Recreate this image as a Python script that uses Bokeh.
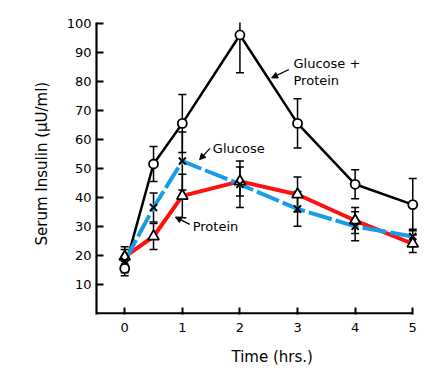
import math
from bokeh.plotting import figure
from bokeh.models import Whisker, ColumnDataSource, Label, Arrow, NormalHead, FixedTicker, TeeHead, Title
from bokeh.embed import file_html
from bokeh.resources import INLINE

# ---- data ----
time = [0, 0.5, 1, 2, 3, 4, 5]
gp_mean = [15.5, 51.5, 65.5, 96, 65.5, 44.5, 37.5]
gp_err = [2.5, 6, 10, 13, 8.5, 5, 9]
glu_mean = [18, 36.5, 52.5, 44.5, 36, 30, 26.5]
glu_err = [4, 5, 10, 8, 6, 5, 2.5]
pro_mean = [19.5, 26.5, 40.5, 45.5, 41, 32, 24]
pro_err = [3.5, 4.5, 7.5, 5, 6, 4.5, 3]
x_ticks = [0, 1, 2, 3, 4, 5]
y_ticks = [10, 20, 30, 40, 50, 60, 70, 80, 90, 100]

FONT = "DejaVu Sans"
BLUE = "#1a9be8"
RED = "#ff1010"

p = figure(width=441, height=379, output_backend="svg", toolbar_location=None,
           x_range=(-0.49, 5.152), y_range=(-0.4, 100.3),
           min_border_left=96, min_border_right=20, min_border_top=22, min_border_bottom=65)
p.outline_line_color = None
p.grid.visible = False
p.background_fill_color = "white"

for ax in (p.xaxis, p.yaxis):
    ax.major_tick_in = 7
    ax.major_tick_out = 0
    ax.minor_tick_line_color = None
    ax.major_tick_line_width = 2
    ax.major_tick_line_color = "black"
    ax.major_label_text_font = FONT
    ax.major_label_text_font_size = "13px"
    ax.major_label_text_color = "black"
p.yaxis.axis_line_width = 2.2
p.yaxis.axis_line_color = "black"
p.xaxis.axis_line_color = None
p.xaxis.ticker = FixedTicker(ticks=x_ticks)
p.yaxis.ticker = FixedTicker(ticks=y_ticks)
p.xaxis.major_label_standoff = 8
p.yaxis.major_label_standoff = 5

# x-axis spine ending at the last tick
p.segment(x0=[-0.49], y0=[0], x1=[5], y1=[0], line_color="black", line_width=2.2)

def add_err(mean, err):
    src = ColumnDataSource(dict(x=time, lo=[m - e for m, e in zip(mean, err)], hi=[m + e for m, e in zip(mean, err)]))
    w = Whisker(base="x", lower="lo", upper="hi", source=src, line_color="black", line_width=1.5,
                upper_head=TeeHead(size=8, line_width=1.5, line_color="black"),
                lower_head=TeeHead(size=8, line_width=1.5, line_color="black"))
    p.add_layout(w)

add_err(gp_mean, gp_err)
add_err(glu_mean, glu_err)
add_err(pro_mean, pro_err)

p.line(time, gp_mean, line_color="black", line_width=2.5)
p.line(time, pro_mean, line_color=RED, line_width=4)
p.line(time, glu_mean, line_color=BLUE, line_width=4, line_dash="24 4")

p.scatter(time, gp_mean, marker="circle", size=9, fill_color="white", line_color="black", line_width=1.8)
p.scatter(time, pro_mean, marker="triangle", size=11, fill_color="white", line_color="black", line_width=1.8)
p.scatter(time, glu_mean, marker="x", size=10, line_color="black", line_width=2)

# annotations
def txt(x, y, s, size="13px"):
    p.add_layout(Label(x=x, y=y, text=s, text_font=FONT, text_font_size=size,
                       text_align="left", text_baseline="middle", text_color="black"))

txt(2.93, 86.2, "Glucose +")
txt(2.93, 80.3, "Protein")
txt(1.53, 56.9, "Glucose")
txt(1.18, 30.0, "Protein")

for (xs, ys, xe, ye) in [(2.85, 84.1, 2.55, 81.2), (1.48, 56.9, 1.30, 53.0), (1.13, 30.7, 0.88, 33.2)]:
    p.add_layout(Arrow(x_start=xs, y_start=ys, x_end=xe, y_end=ye, line_width=1.3, line_color="black",
                       end=NormalHead(size=6, fill_color="black", line_color="black")))

# axis titles
p.add_layout(Title(text="Serum Insulin (\u03bcU/ml)", align="left", offset=69, standoff=25,
                   text_font=FONT, text_font_size="15px", text_font_style="normal",
                   text_color="black"), "left")
p.add_layout(Title(text="Time (hrs.)", align="left", offset=135, standoff=23,
                   text_font=FONT, text_font_size="15px", text_font_style="normal",
                   text_color="black"), "below")

open("out.html", "w").write(file_html(p, INLINE))
